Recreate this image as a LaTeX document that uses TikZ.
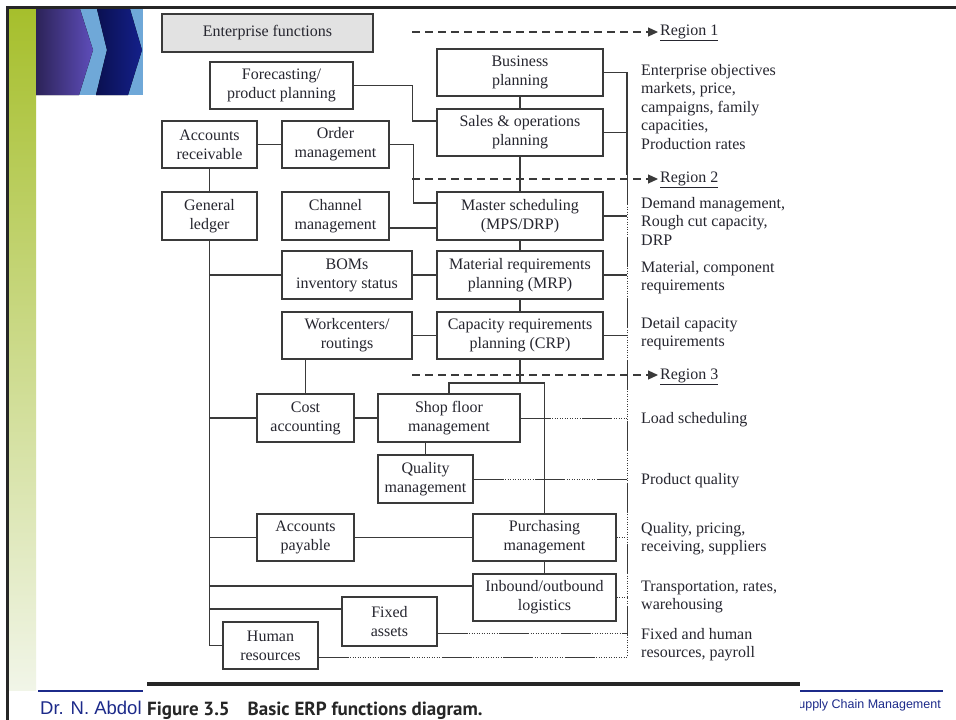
\documentclass[tikz,border=0pt]{standalone}
\usepackage{fontspec}
\setmainfont{Liberation Serif}
\newfontfamily\capfont{PT Sans}
\newfontfamily\footfont{Liberation Sans}
\usetikzlibrary{arrows.meta,calc}

\definecolor{txt}{HTML}{26262F}
\definecolor{lncol}{HTML}{3A3A3A}
\definecolor{entfill}{HTML}{E2E2E2}
\definecolor{greenA}{HTML}{A6BF2C}
\definecolor{greenB}{HTML}{F1F5E8}
\definecolor{purpleA}{HTML}{2C2358}
\definecolor{purpleB}{HTML}{5E4DBA}
\definecolor{navyA}{HTML}{0A1050}
\definecolor{navyB}{HTML}{14208A}
\definecolor{skyband}{HTML}{6FA8D8}
\definecolor{footblue}{HTML}{1C2A8A}
\definecolor{rulecol}{HTML}{262626}

\newcommand{\figfont}{\fontsize{16}{19}\selectfont}

\tikzset{
  box/.style={draw=lncol, line width=1.3pt, inner sep=1pt, align=center,
              font=\figfont, text=txt, minimum height=47pt},
  ln/.style={draw=lncol, line width=1.1pt},
  dotln/.style={draw=lncol, line width=1pt, dash pattern=on 1pt off 1.5pt},
  mixline/.style={draw=lncol, line width=1pt,
    dash pattern=on 30pt off 1.5pt on 1pt off 1.5pt on 1pt off 1.5pt on 1pt off 1.5pt
      on 1pt off 1.5pt on 1pt off 1.5pt on 1pt off 1.5pt on 1pt off 1.5pt on 1pt off 1.5pt
      on 1pt off 1.5pt on 1pt off 1.5pt on 1pt off 1.5pt on 1pt off 1.5pt},
  regline/.style={draw=lncol, line width=1.2pt, dash pattern=on 8pt off 5pt,
    -{Triangle[length=10pt,width=9pt]}},
  % base anchor of a multi-line block sits on its last line
  desc/.style={anchor=base west, align=left, inner sep=0pt, text=txt,
    font=\fontsize{16}{18.6}\selectfont},
  reglbl/.style={anchor=base west, inner sep=2pt, text=txt, font=\figfont},
}

\begin{document}
\begin{tikzpicture}[x=1pt,y=-1pt]
\useasboundingbox (0,0) rectangle (956,720);
\fill[white] (0,0) rectangle (956,720);

% ---- slide decoration ----
\fill[top color=greenA, bottom color=greenB] (9,9) rectangle (36,690);
\fill[skyband] (36,9) rectangle (143,95);
\fill[left color=purpleA, right color=purpleB]
  (36,9) -- (80,9) -- (93,50) -- (79,95) -- (36,95) -- cycle;
\fill[left color=navyA, right color=navyB]
  (97,9) -- (130,9) -- (142,50) -- (128,95) -- (96,95) -- (107,50) -- cycle;

% footer
\node[anchor=base west, inner sep=0pt, text=footblue,
      font=\footfont\fontsize{18.5}{20}\selectfont] (author) at (40,714) {Dr. N. Abdol};
\node[anchor=base east, inner sep=0pt, text=footblue,
      font=\footfont\fontsize{12.5}{14}\selectfont] (course) at (941,708) {Supply Chain Management};
\draw[footblue, line width=2pt] (38,691) -- (143,691);
\draw[footblue, line width=2pt] (800,691) -- (943,691);

% figure page
\fill[white] (145,9) rectangle (800,720);
\draw[black!85, line width=2.5pt] (7.5,720) -- (7.5,7.5) -- (956,7.5);
\draw[rulecol, line width=4pt] (147,684) -- (800,684);
\node[anchor=base west, inner sep=0pt, text=rulecol,
      font=\capfont\bfseries\fontsize{19}{22}\selectfont] (cap) at (147,715)
      {Figure 3.5\hspace{18pt}Basic ERP functions diagram.};

% ---- function boxes ----
\node[box, fill=entfill, minimum width=211pt, minimum height=38pt] (ent) at (267.5,33) {Enterprise functions};
\node[box, minimum width=143pt] (fore) at (281.5,85.5) {Forecasting/\\product planning};
\node[box, minimum width=166pt] (bus)  at (520,72.5)  {Business\\planning};
\node[box, minimum width=166pt] (sop)  at (520,132.5) {Sales \& operations\\planning};
\node[box, minimum width=95pt]  (ar)   at (209.5,144.5) {Accounts\\receivable};
\node[box, minimum width=107pt] (om)   at (335.5,144.5) {Order\\management};
\node[box, minimum width=95pt, minimum height=48pt]  (gl) at (209.5,216) {General\\ledger};
\node[box, minimum width=107pt, minimum height=48pt] (cm) at (335.5,216) {Channel\\management};
\node[box, minimum width=166pt, minimum height=48pt] (ms) at (520,216) {Master scheduling\\(MPS/DRP)};
\node[box, minimum width=130pt, minimum height=48pt] (bom) at (347,275) {BOMs\\inventory status};
\node[box, minimum width=166pt, minimum height=48pt] (mrp) at (520,275) {Material requirements\\planning (MRP)};
\node[box, minimum width=130pt] (wc)  at (347,335.5) {Workcenters/\\routings};
\node[box, minimum width=166pt] (crp) at (520,335.5) {Capacity requirements\\planning (CRP)};
\node[box, minimum width=97pt, minimum height=48pt]  (ca) at (305.5,418) {Cost\\accounting};
\node[box, minimum width=142pt, minimum height=48pt] (sf) at (449,418) {Shop floor\\management};
\node[box, minimum width=95pt, minimum height=48pt]  (qm) at (425.5,479) {Quality\\management};
\node[box, minimum width=97pt]  (ap) at (305.5,537.5) {Accounts\\payable};
\node[box, minimum width=143pt] (pm) at (544.5,537.5) {Purchasing\\management};
\node[box, minimum width=143pt] (io) at (544.5,597.5) {Inbound/outbound\\logistics};
\node[box, minimum width=95pt, minimum height=49pt] (fa) at (389.5,621.5) {Fixed\\assets};
\node[box, minimum width=95pt]  (hr) at (270.5,645.5) {Human\\resources};

% ---- region markers ----
\node[reglbl] (r1) at (658,35)  {\underline{Region 1}};
\node[reglbl] (r2) at (658,182) {\underline{Region 2}};
\node[reglbl] (r3) at (658,379) {\underline{Region 3}};
\coordinate (r1s) at (412,32);
\coordinate (r2s) at (412,179);
\coordinate (r3s) at (412,375);
\draw[regline] (r1s) -- (r1s -| r1.west);
\draw[regline] (r2s) -- (r2s -| r2.west);
\draw[regline] (r3s) -- (r3s -| r3.west);

% ---- descriptions (positions are last-line baselines) ----
\node[desc] (d1) at (641,149.4) {Enterprise objectives\\markets, price,\\campaigns, family\\capacities,\\Production rates};
\node[desc] (d2) at (641,245.2) {Demand management,\\Rough cut capacity,\\DRP};
\node[desc] (d3) at (641,290.6) {Material, component\\requirements};
\node[desc] (d4) at (641,346.6) {Detail capacity\\requirements};
\node[desc] (d5) at (641,423)   {Load scheduling};
\node[desc] (d6) at (641,484)   {Product quality};
\node[desc] (d7) at (641,551.6) {Quality, pricing,\\receiving, suppliers};
\node[desc] (d8) at (641,609.6) {Transportation, rates,\\warehousing};
\node[desc] (d9) at (641,657.6) {Fixed and human\\resources, payroll};

% ---- connectors ----
\coordinate (rvtop) at (627,72.5);
\coordinate (rvmid) at (627,175);
\coordinate (hrr) at ([yshift=-11.5pt]hr.east);
\coordinate (far) at ([yshift=-11.5pt]fa.east);
\coordinate (iol) at ([yshift=11.5pt]io.west);
\coordinate (fal) at ([yshift=12.5pt]fa.west);
\coordinate (jn) at (520,383);

\draw[ln] (fore.east) -- ++(59,0) |- ([yshift=11.5pt]sop.west);
\draw[ln] (bus.south) -- (sop.north);
\draw[ln] (sop.south) -- (ms.north);
\draw[ln] (ms.south) -- (mrp.north);
\draw[ln] (mrp.south) -- (crp.north);
\draw[ln] (ar.east) -- (om.west);
\draw[ln] (ar.south) -- (gl.north);
\draw[ln] (om.east) -- ++(24,0) |- ([yshift=13pt]ms.west);
\draw[ln] ([yshift=-12pt]cm.east) -- ([yshift=-12pt]ms.west);
\draw[ln] (gl.south) |- (hr.west);
\draw[ln] (bom.west) -- (bom.west -| gl.south);
\draw[ln] (bom.east) -- (bom.east -| mrp.west);
\draw[ln] (wc.east) -- (wc.east -| crp.west);
\draw[ln] (ca.north) -- (ca.north |- wc.south);
\draw[ln] (ca.west) -- (ca.west -| gl.south);
\draw[ln] (ca.east) -- (sf.west);
\draw[ln] (crp.south) -- (jn);
\draw[ln] (sf.north) |- (jn) -| (pm.north);
\draw[ln] (qm.north) -- (qm.north |- sf.south);
\draw[ln] (ap.west) -- (ap.west -| gl.south);
\draw[ln] (ap.east) -- (pm.west);
\draw[ln] (pm.south) -- (io.north);
\draw[ln] (iol) -- (iol -| gl.south);
\draw[ln] (fal) -- (fal -| gl.south);

% links to the right-hand descriptions
\draw[ln] (bus.east) -- (rvtop) -- (rvmid);
\draw[mixline] (rvmid) -- (hrr -| rvtop);
\draw[ln] (sop.east) -- (sop.east -| rvtop);
\draw[ln] (ms.east) -- (ms.east -| rvtop);
\draw[ln] (mrp.east) -- (mrp.east -| rvtop);
\draw[ln] (crp.east) -- (crp.east -| rvtop);
\draw[mixline] (sf.east) -- (sf.east -| rvtop);
\draw[mixline] (qm.east) -- (qm.east -| rvtop);
\draw[dotln] (pm.east) -- (pm.east -| rvtop);
\draw[dotln] (io.east) -- (io.east -| rvtop);
\draw[mixline] (far) -- (far -| rvtop);
\draw[mixline] (hrr) -- (hrr -| rvtop);
\end{tikzpicture}
\end{document}
